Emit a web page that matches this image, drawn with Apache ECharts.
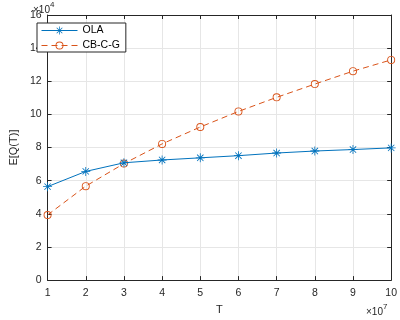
<!DOCTYPE html>
<html>
<head>
<meta charset="utf-8">
<script src="https://cdn.jsdelivr.net/npm/echarts@6/dist/echarts.min.js"></script>
<style>
  html, body { margin: 0; padding: 0; background: #fff; }
  #chart { width: 400px; height: 320px; }
</style>
</head>
<body>
<div id="chart"></div>
<script>
// T values (x 10^7) and E[Q(T)] values (x 10^4)
const tValues = [1, 2, 3, 4, 5, 6, 7, 8, 9, 10];
const olaValues = [5.64, 6.56, 7.08, 7.25, 7.38, 7.51, 7.67, 7.79, 7.88, 7.98];
const cbcgValues = [3.93, 5.67, 7.03, 8.22, 9.24, 10.18, 11.03, 11.83, 12.61, 13.29];
const yTicks = [0, 2, 4, 6, 8, 10, 12, 14, 16];

const FONT = "Liberation Sans, Arial, sans-serif";
const AXIS_COLOR = "#262626";

// 8-armed asterisk like matlab's '*' marker
const asterisk = "path://M-0.45,-5 L0.45,-5 L0.45,5 L-0.45,5 Z " +
  "M-5,-0.45 L5,-0.45 L5,0.45 L-5,0.45 Z " +
  "M-3.85,-3.2 L-3.2,-3.85 L3.85,3.2 L3.2,3.85 Z " +
  "M3.2,-3.85 L3.85,-3.2 L-3.2,3.85 L-3.85,3.2 Z";
// open ring, the line stays visible through it (matlab 'o')
const ring = "path://M0,-4 A4,4 0 1,1 0,4 A4,4 0 1,1 0,-4 Z " +
  "M0,-3.1 A3.1,3.1 0 1,0 0,3.1 A3.1,3.1 0 1,0 0,-3.1 Z";

const chart = echarts.init(document.getElementById("chart"), null, { renderer: "canvas" });

const baseX = {
  type: "value",
  min: 1,
  max: 10,
  interval: 1,
  axisLine: { show: true, onZero: false, lineStyle: { color: AXIS_COLOR, width: 1 } },
  axisTick: { show: true, inside: true, length: 4, lineStyle: { color: AXIS_COLOR } },
  splitLine: { show: false },
};
const baseY = {
  type: "value",
  min: 0,
  max: 16,
  interval: 2,
  axisLine: { show: true, onZero: false, lineStyle: { color: AXIS_COLOR, width: 1 } },
  axisTick: { show: true, inside: true, length: 4, lineStyle: { color: AXIS_COLOR } },
  splitLine: { show: false },
};

const option = {
  backgroundColor: "#fff",
  animation: false,
  grid: { left: 33, right: 6, top: 15, bottom: 33, containLabel: false },
  xAxis: [
    Object.assign({}, baseX, {
      position: "bottom",
      axisLabel: { color: AXIS_COLOR, fontFamily: FONT, fontSize: 10.5, margin: 8 },
      splitLine: { show: true, lineStyle: { color: "#e6e6e6", width: 1 } },
      name: "T",
      nameLocation: "middle",
      nameGap: 22,
      nameTextStyle: { color: AXIS_COLOR, fontFamily: FONT, fontSize: 11 },
    }),
    Object.assign({}, baseX, { position: "top", axisLabel: { show: false } }),
  ],
  yAxis: [
    Object.assign({}, baseY, {
      position: "left",
      axisLabel: {
        color: AXIS_COLOR, fontFamily: FONT, fontSize: 10.5, margin: 6,
        formatter: (v) => (yTicks.includes(v) ? String(v) : ""),
      },
      splitLine: { show: true, lineStyle: { color: "#e6e6e6", width: 1 } },
      name: "E[Q(T)]",
      nameLocation: "middle",
      nameGap: 24,
      nameTextStyle: { color: AXIS_COLOR, fontFamily: FONT, fontSize: 11 },
    }),
    Object.assign({}, baseY, { position: "right", axisLabel: { show: false } }),
  ],
  legend: {
    show: true,
    left: 37,
    top: 23,
    orient: "vertical",
    itemGap: 4,
    itemWidth: 36,
    itemHeight: 10,
    padding: [2, 6, 1, 4],
    backgroundColor: "#fff",
    borderColor: AXIS_COLOR,
    borderWidth: 1,
    borderRadius: 0,
    lineStyle: { width: 1 },
    textStyle: { color: "#000", fontFamily: FONT, fontSize: 10.5 },
    data: ["OLA", "CB-C-G"],
  },
  series: [
    {
      name: "OLA",
      type: "line",
      data: tValues.map((t, i) => [t, olaValues[i]]),
      symbol: asterisk,
      symbolSize: 9,
      showAllSymbol: true,
      lineStyle: { color: "#0072BD", width: 1 },
      itemStyle: { color: "#0072BD", borderWidth: 0 },
      z: 3,
    },
    {
      name: "CB-C-G",
      type: "line",
      data: tValues.map((t, i) => [t, cbcgValues[i]]),
      symbol: ring,
      symbolSize: 8,
      showAllSymbol: true,
      lineStyle: { color: "#D95319", width: 1, type: [6, 4] },
      itemStyle: { color: "#D95319", borderWidth: 0 },
      z: 2,
    },
  ],
  graphic: [
    {
      type: "text",
      left: 33,
      top: 1,
      style: {
        text: "{a|\u00d710}{b|4}",
        rich: {
          a: { fontFamily: FONT, fontSize: 10, fill: AXIS_COLOR, padding: [4, 0, 0, 0] },
          b: { fontFamily: FONT, fontSize: 8, fill: AXIS_COLOR, verticalAlign: "top" },
        },
      },
    },
    {
      type: "text",
      left: 366,
      top: 303,
      style: {
        text: "{a|\u00d710}{b|7}",
        rich: {
          a: { fontFamily: FONT, fontSize: 10, fill: AXIS_COLOR, padding: [4, 0, 0, 0] },
          b: { fontFamily: FONT, fontSize: 8, fill: AXIS_COLOR, verticalAlign: "top" },
        },
      },
    },
  ],
};

chart.setOption(option);
</script>
</body>
</html>
